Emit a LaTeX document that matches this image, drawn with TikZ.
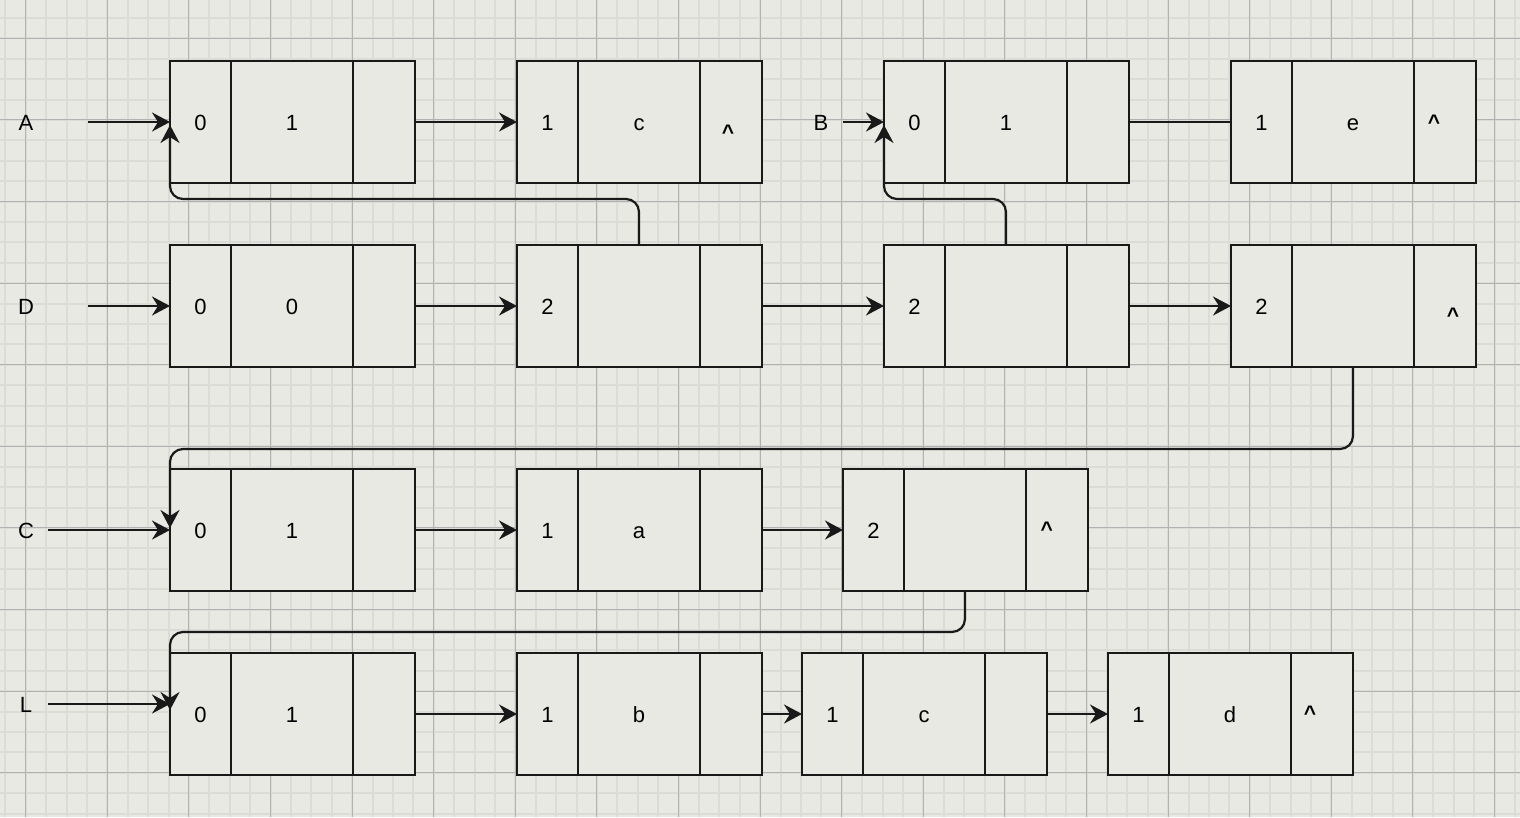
\documentclass[tikz,border=0pt]{standalone}
\usepackage{fontspec}
\setmainfont{Liberation Sans}
\usetikzlibrary{arrows.meta}
\definecolor{bg}{RGB}{232,233,227}
\definecolor{minorc}{RGB}{219,220,214}
\definecolor{majorc}{RGB}{178,178,178}
\newcommand{\mklist}[5]{%
  \node[cell, minimum width=61pt, anchor=west] (#1a) at (#2,#3) {#4};
  \node[cell, minimum width=122pt, anchor=west] (#1b) at (#1a.east) {#5};
  \node[cell, minimum width=62pt, anchor=west] (#1c) at (#1b.east) {};
}
\begin{document}
\begin{tikzpicture}[x=1pt,y=-1pt,
  cell/.style={draw=black!90, line width=2.3pt, fill=bg, minimum height=122pt,
    inner sep=0pt, outer sep=0pt, text height=16pt, text depth=0pt,
    font=\fontsize{22}{26}\selectfont},
  lab/.style={inner sep=0pt, text height=16pt, text depth=0pt,
    font=\fontsize{22}{26}\selectfont},
  caret/.style={inner sep=0pt, anchor=base, font=\bfseries\fontsize{21}{25}\selectfont},
  arr/.style={draw=black!90, line width=2.2pt, -{Stealth[length=18pt,width=19pt,inset=6pt]}},
  con/.style={draw=black!90, line width=2.2pt},
  elbow/.style={arr, rounded corners=13pt},
  minorl/.style={draw=minorc, line width=2pt},
  majorl/.style={draw=majorc, line width=1pt},
]
% background and grid
\fill[bg] (0,0) rectangle (1520,817);
\useasboundingbox (0,0) rectangle (1520,817);
\foreach \i in {-2,...,76} {\draw[minorl] ({25.7+20.4*\i},0) -- ({25.7+20.4*\i},817);}
\foreach \i in {-2,...,40} {\draw[minorl] (0,{38.3+20.4*\i}) -- (1520,{38.3+20.4*\i});}
\foreach \i in {0,...,18} {\draw[majorl] ({25.7+81.6*\i},0) -- ({25.7+81.6*\i},817);}
\foreach \i in {-1,...,10} {\draw[majorl] (0,{38.3+81.6*\i}) -- (1520,{38.3+81.6*\i});}

% row 1
\mklist{pa}{170}{122}{0}{1}
\mklist{pb}{517}{122}{1}{c}
\mklist{pc}{884}{122}{0}{1}
\mklist{pd}{1231}{122}{1}{e}
% row 2
\mklist{qa}{170}{306}{0}{0}
\mklist{qb}{517}{306}{2}{}
\mklist{qc}{884}{306}{2}{}
\mklist{qd}{1231}{306}{2}{}
% row 3
\mklist{ra}{170}{530}{0}{1}
\mklist{rb}{517}{530}{1}{a}
\mklist{rc}{843}{530}{2}{}
% row 4
\mklist{sa}{170}{714}{0}{1}
\mklist{sb}{517}{714}{1}{b}
\mklist{sc}{802}{714}{1}{c}
\mklist{sd}{1108}{714}{1}{d}

% null markers
\node[caret] (n1) at (728,139.5) {\textasciicircum};
\node[caret] (n2) at (1434,129) {\textasciicircum};
\node[caret] (n3) at (1453,322.8) {\textasciicircum};
\node[caret] (n4) at (1046.7,536) {\textasciicircum};
\node[caret] (n5) at (1310,720.5) {\textasciicircum};

% head labels
\node[lab] (A) at (26,122) {A};
\node[lab] (B) at (821,122) {B};
\node[lab] (D) at (26,306) {D};
\node[lab] (C) at (26,530) {C};
\node[lab] (L) at (26,704) {L};
\coordinate (As) at (88,122);
\coordinate (Bs) at (843,122);
\coordinate (Ds) at (88,306);
\coordinate (Cs) at (48,530);
\coordinate (Ls) at (48,704);

% elbow corner coordinates
\coordinate (k1) at (170,199);
\coordinate (k2) at (884,199);
\coordinate (k3) at (170,449);
\coordinate (k4) at (170,632);

% elbow connectors
\draw[elbow] (qbb.north) |- (k1) -- ([yshift=-3pt]paa.west);
\draw[elbow] (qcb.north) |- (k2) -- ([yshift=-3pt]pca.west);
\draw[elbow] (qdb.south) |- (k3) -- ([yshift=2pt]raa.west);
\draw[elbow] (rcb.south) |- (k4) -- ([yshift=4pt]saa.west);

% head arrows
\draw[arr] (As) -- (paa.west);
\draw[arr] (Bs) -- (pca.west);
\draw[arr] (Ds) -- (qaa.west);
\draw[arr] (Cs) -- (raa.west);
\draw[arr] (Ls) -- ([yshift=10pt]saa.west);

% next-pointer arrows
\draw[arr] (pac.east) -- (pba.west);
\draw[con] (pcc.east) -- (pda.west);
\draw[arr] (qac.east) -- (qba.west);
\draw[arr] (qbc.east) -- (qca.west);
\draw[arr] (qcc.east) -- (qda.west);
\draw[arr] (rac.east) -- (rba.west);
\draw[arr] (rbc.east) -- (rca.west);
\draw[arr] (sac.east) -- (sba.west);
\draw[arr] (sbc.east) -- (sca.west);
\draw[arr] (scc.east) -- (sda.west);
\end{tikzpicture}
\end{document}
